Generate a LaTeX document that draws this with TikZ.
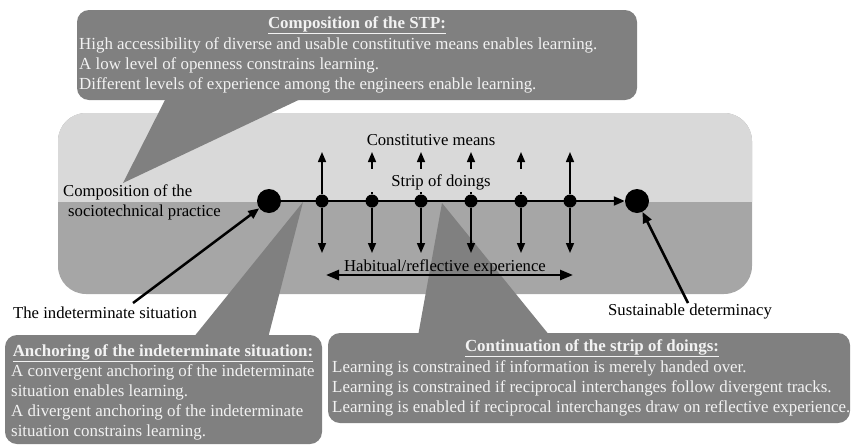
\documentclass[tikz,border=0pt]{standalone}
\usepackage{fontspec}
\setmainfont{Liberation Serif}
\usetikzlibrary{arrows.meta}
\definecolor{bgup}{RGB}{217,217,217}
\definecolor{bglow}{RGB}{166,166,166}
\definecolor{callout}{RGB}{128,128,128}
\definecolor{ctxt}{RGB}{242,242,242}
\begin{document}
\begin{tikzpicture}[x=1pt,y=-1pt,
  lbl/.style={font=\fontsize{16.7}{20}\selectfont, inner sep=0pt},
  ctext/.style={font=\fontsize{16.9}{20}\selectfont, inner sep=0pt, text=ctxt, align=left},
  ctitle/.style={font=\fontsize{16.9}{20}\selectfont\bfseries, inner sep=0pt, text=ctxt},
  dot/.style={circle, fill=black, minimum size=13pt, inner sep=0pt},
  bigdot/.style={circle, fill=black, minimum size=24pt, inner sep=0pt},
  vert/.style={line width=1.5pt, -{Triangle[width=8pt,length=10pt]}},
  mainline/.style={line width=2pt, -{Triangle[width=9pt,length=11pt]}},
  pointarrow/.style={line width=2.5pt, -{Triangle[width=9pt,length=11pt]}},
  habit/.style={line width=2.5pt, {Triangle[width=10pt,length=13pt]}-{Triangle[width=10pt,length=13pt]}},
  bubble/.style={fill=callout, rounded corners=12pt}
]
\useasboundingbox (0,0) rectangle (852,445);
% main background
\fill[bglow, rounded corners=28pt] (58,113) rectangle (752,294);
\begin{scope}
\clip (58,113) rectangle (752,201);
\fill[bgup, rounded corners=28pt] (58,113) rectangle (752,294);
\end{scope}
% callouts
\fill[bubble] (77,10) rectangle (637,100);
\fill[callout] (167,96) -- (123,183) -- (307,96) -- cycle;
\fill[bubble] (5,335) rectangle (322,444);
\fill[callout] (193,338) -- (303,202) -- (268,338) -- cycle;
\fill[bubble] (328,333) rectangle (850,423);
\fill[callout] (418,336) -- (442,203) -- (550,336) -- cycle;
% callout texts
\node[ctitle] (t1) at (357,25) {\underline{Composition of the STP:}};
\node[ctext, anchor=west] (b1) at (79,65) {High accessibility of diverse and usable constitutive means enables learning.\\A low level of openness constrains learning.\\Different levels of experience among the engineers enable learning.};
\node[ctitle] (t2) at (163,353) {\underline{Anchoring of the indeterminate situation:}};
\node[ctext, anchor=west] (b2) at (11,402) {A convergent anchoring of the indeterminate\\situation enables learning.\\A divergent anchoring of the indeterminate\\situation constrains learning.};
\node[ctitle] (t3) at (592,348) {\underline{Continuation of the strip of doings:}};
\node[ctext, anchor=west] (b3) at (332,388) {Learning is constrained if information is merely handed over.\\Learning is constrained if reciprocal interchanges follow divergent tracks.\\Learning is enabled if reciprocal interchanges draw on reflective experience.};
% process line
\node[bigdot] (s) at (269,201) {};
\node[bigdot] (e) at (637,201) {};
\foreach \i/\x in {1/322,2/372,3/421,4/471,5/521,6/570}{
  \node[dot] (d\i) at (\x,201) {};
  \coordinate (u\i) at (\x,152);
  \coordinate (w\i) at (\x,253);
}
\draw[mainline] (s) -- (e);
\foreach \i in {1,...,6}{
  \draw[vert] (d\i) -- (u\i);
  \draw[vert] (d\i) -- (w\i);
}
\node[fill=bgup, minimum width=160pt, minimum height=23pt, inner sep=0pt] (mask) at (446,180.5) {};
\node[lbl] (strip) at (441,182) {Strip of doings};
\node[lbl] (cm) at (431,140) {Constitutive means};
\node[lbl] (hab) at (445,267) {Habitual/reflective experience};
\coordinate (h1) at (326,275);
\coordinate (h2) at (573,275);
\draw[habit] (h1) -- (h2);
% labels
\node[lbl, anchor=west, align=left] (comp) at (63,202) {Composition of the\\\hspace*{5pt}sociotechnical practice};
\node[lbl] (ind) at (105,313) {The indeterminate situation};
\node[lbl] (sus) at (690,312) {Sustainable determinacy};
\coordinate (ia) at (133,303);
\coordinate (sa) at (688,303);
\draw[pointarrow] (ia) -- (s);
\draw[pointarrow] (sa) -- (e);
\end{tikzpicture}
\end{document}
